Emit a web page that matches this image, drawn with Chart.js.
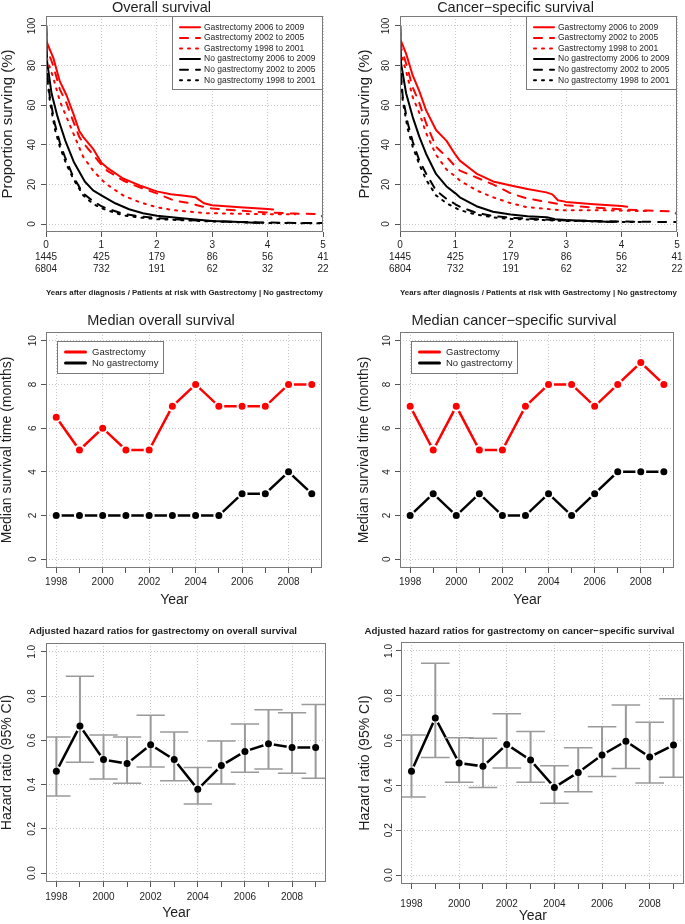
<!DOCTYPE html>
<html>
<head>
<meta charset="utf-8">
<title>Gastrectomy survival</title>
<script src="https://cdn.jsdelivr.net/npm/chart.js@4.4.1/dist/chart.umd.min.js"></script>
<style>
  html, body { margin: 0; padding: 0; background: #fff; overflow: hidden; }
  #fig { position: relative; width: 685px; height: 924px; overflow: hidden; background: #fff; }
  #fig canvas { position: absolute; }
</style>
</head>
<body>
<div id="fig">
  <canvas id="os" width="367" height="305" style="left:0px;top:0px"></canvas>
  <canvas id="css" width="369" height="305" style="left:354px;top:0px"></canvas>
  <canvas id="medOs" width="367" height="305" style="left:0px;top:305px"></canvas>
  <canvas id="medCss" width="372" height="305" style="left:354px;top:305px"></canvas>
  <canvas id="hrOs" width="373" height="314" style="left:0px;top:610px"></canvas>
  <canvas id="hrCss" width="342" height="314" style="left:355px;top:610px"></canvas>
</div>
<script>
// ---------- data ----------
const riskYears = [0, 1, 2, 3, 4, 5];
const riskGastro = [1445, 425, 179, 86, 56, 41];
const riskNoGastro = [6804, 732, 191, 62, 32, 22];

const curveLabels = [
  "Gastrectomy 2006 to 2009", "Gastrectomy 2002 to 2005", "Gastrectomy 1998 to 2001",
  "No gastrectomy 2006 to 2009", "No gastrectomy 2002 to 2005", "No gastrectomy 1998 to 2001"
];

// overall survival, [years, % surviving]
const osG0609 = [[0,100],[0.01,92],[0.13,84],[0.25,72],[0.37,65],[0.49,56],[0.6,47],[0.67,44],[0.85,38],[1.0,31],[1.1,28.5],[1.39,23],[1.69,19.5],[2.0,16.5],[2.25,15],[2.5,14.3],[2.7,13.5],[2.85,10.5],[3.0,9.5],[3.5,8.5],[4.0,7.6],[4.1,7.4]];
const osG0205 = [[0,100],[0.01,89],[0.13,80],[0.25,68],[0.37,61],[0.49,52],[0.6,44],[0.67,41],[0.85,35],[1.0,30],[1.1,27],[1.39,22],[1.69,18.5],[2.0,15.5],[2.3,12],[2.6,10.5],[2.8,9],[3.0,7.8],[3.5,6.8],[4.0,5.8],[4.5,5.3],[4.95,5],[5.0,3.5]];
const osG9801 = [[0,100],[0.01,84],[0.13,74],[0.25,62],[0.37,54],[0.49,46],[0.67,34],[0.85,27],[1.0,22.5],[1.1,20],[1.39,14.5],[1.69,11],[2.0,8.5],[2.3,7],[2.9,5.5],[3.5,5.2],[4.0,5],[4.5,5]];
const osN0609 = [[0,100],[0.02,82],[0.1,66],[0.2,55],[0.25,50.5],[0.35,42],[0.5,31.5],[0.7,21.5],[0.85,17],[1.0,14.5],[1.25,10.5],[1.5,7.5],[1.75,5.5],[2.0,4.2],[2.5,2.8],[3.0,1.6],[3.5,1.0],[3.85,0.6]];
const osN0205 = [[0,100],[0.02,76],[0.07,64],[0.16,50.5],[0.25,41],[0.34,34],[0.49,24],[0.67,15.5],[0.85,11.5],[1.0,9],[1.1,7.8],[1.39,5.2],[1.7,3.8],[2.0,3],[2.6,2],[3.0,1.5],[3.5,1.1],[4.0,0.8],[4.5,0.6],[5.0,0.5]];
const osN9801 = [[0,100],[0.02,74],[0.07,62],[0.16,48],[0.25,39],[0.37,30],[0.49,23],[0.67,14.5],[0.85,10.2],[1.0,8],[1.1,7],[1.39,4.4],[1.7,3.3],[2.0,2.5],[2.6,1.8],[3.0,1.3],[3.5,0.9],[4.0,0.6],[4.5,0.5],[5.0,0.4]];

// cancer-specific survival
const cssG0609 = [[0,100],[0.01,93],[0.11,86],[0.23,75],[0.35,67],[0.47,57.5],[0.65,47.5],[0.84,42],[1.0,35],[1.08,32],[1.38,25.5],[1.68,21.5],[2.0,19.5],[2.3,17.7],[2.64,16],[2.75,15],[2.85,12],[3.0,11.2],[3.5,10],[4.0,9.1],[4.1,8.8]];
const cssG0205 = [[0,100],[0.01,90],[0.11,81],[0.23,69],[0.35,61],[0.47,51],[0.65,39],[0.84,34],[1.0,29],[1.08,27],[1.38,23.5],[1.68,20],[2.0,15.5],[2.28,13],[2.64,11.2],[3.0,9.5],[3.5,8.3],[4.0,7.4],[4.5,6.8],[4.95,6.4],[5.0,4.8]];
const cssG9801 = [[0,100],[0.01,87],[0.11,77],[0.23,64],[0.35,56],[0.47,46],[0.65,35],[0.84,27.5],[1.0,24],[1.08,22],[1.38,17],[1.68,13.5],[2.0,10.5],[2.28,8.6],[2.9,7],[3.5,7],[4.0,6.8],[4.5,6.5]];
const cssN0609 = [[0,100],[0.02,81],[0.11,66],[0.23,54],[0.35,44],[0.47,35.5],[0.65,25.3],[0.84,19],[1.0,15.5],[1.08,13.5],[1.38,9],[1.68,6.2],[2.0,4.8],[2.3,4],[2.65,3.5],[2.8,2.4],[3.0,2],[3.5,1.4],[3.85,1.1]];
const cssN0205 = [[0,100],[0.02,75],[0.05,64],[0.14,51],[0.23,41.5],[0.35,32],[0.47,25.5],[0.65,17],[0.84,12.7],[1.0,10],[1.08,8.8],[1.38,5.6],[1.7,4],[2.0,3.2],[2.6,2.3],[3.0,1.8],[4.0,1.3],[5.0,1.0]];
const cssN9801 = [[0,100],[0.02,73],[0.05,62],[0.14,48],[0.23,39],[0.35,30],[0.47,22.5],[0.65,14.5],[0.84,10.5],[1.0,8.2],[1.08,7],[1.38,4.8],[1.7,3.3],[2.0,2.6],[2.6,2],[3.0,1.6],[4.0,1.1],[4.4,1.0]];

const years = [1998, 1999, 2000, 2001, 2002, 2003, 2004, 2005, 2006, 2007, 2008, 2009];

// median survival (months)
const medOsGastro   = [6.5, 5, 6, 5, 5, 7, 8, 7, 7, 7, 8, 8];
const medOsNoGastro = [2, 2, 2, 2, 2, 2, 2, 2, 3, 3, 4, 3];
const medCssGastro   = [7, 5, 7, 5, 5, 7, 8, 8, 7, 8, 9, 8];
const medCssNoGastro = [2, 3, 2, 3, 2, 2, 3, 2, 3, 4, 4, 4];

// adjusted hazard ratios with 95% CI
const hrOs   = [0.46, 0.665, 0.513, 0.495, 0.58, 0.513, 0.379, 0.486, 0.55, 0.585, 0.568, 0.568];
const hrOsLo = [0.349, 0.501, 0.426, 0.406, 0.48, 0.418, 0.313, 0.403, 0.456, 0.471, 0.451, 0.429];
const hrOsHi = [0.615, 0.89, 0.624, 0.615, 0.713, 0.638, 0.477, 0.597, 0.674, 0.738, 0.725, 0.762];
const hrCss   = [0.463, 0.701, 0.5, 0.485, 0.583, 0.513, 0.391, 0.458, 0.536, 0.597, 0.527, 0.58];
const hrCssLo = [0.348, 0.525, 0.414, 0.391, 0.478, 0.414, 0.32, 0.372, 0.44, 0.475, 0.411, 0.436];
const hrCssHi = [0.625, 0.945, 0.613, 0.61, 0.72, 0.641, 0.488, 0.568, 0.662, 0.759, 0.682, 0.787];

const pctTicks = [0, 20, 40, 60, 80, 100];
const monthTicks = [0, 2, 4, 6, 8, 10];
const hrTicks = [0, 0.2, 0.4, 0.6, 0.8, 1.0];

// ---------- styles ----------
const FONT = "'Liberation Sans', Arial, Helvetica, sans-serif";
const RED = "#ff0000", BLACK = "#000000";
const SOLID = [], DASHED = [8, 8], DOTTED = [2, 6];
const GRID = "#c8c8c8", TICK = "#555555", BOX = "#7a7a7a", ERR = "#9a9a9a", TXT = "#1e1e1e";
const CAP = 0.6;

Chart.defaults.font.family = FONT;
Chart.defaults.color = TXT;

// box around the plot region + boxed legend, R style
const rFrame = {
  id: "rFrame",
  afterDraw(chart, args, opts) {
    const { ctx, chartArea: a } = chart;
    ctx.save();
    ctx.lineWidth = 1;
    ctx.strokeStyle = BOX;
    ctx.strokeRect(Math.round(a.left) + 0.5, Math.round(a.top) + 0.5,
                   Math.round(a.right - a.left) - 1, Math.round(a.bottom - a.top) - 1);
    const lg = opts.legend;
    if (lg) {
      const x0 = Math.round(lg.fromRight ? a.right - lg.w : a.left + lg.dx);
      const y0 = Math.round(a.top + lg.dy);
      ctx.fillStyle = "#fff";
      ctx.fillRect(x0, y0, lg.w, lg.h);
      ctx.strokeRect(x0 + 0.5, y0 + 0.5, lg.w - 1, lg.h - 1);
      ctx.font = lg.size + "px " + FONT;
      ctx.textBaseline = "middle";
      ctx.lineCap = "round";
      chart.data.datasets.filter(d => d.label).forEach((d, i) => {
        const y = y0 + lg.first + i * lg.step;
        ctx.beginPath();
        ctx.setLineDash(d.borderDash || []);
        ctx.lineWidth = lg.lw;
        ctx.strokeStyle = d.borderColor;
        ctx.moveTo(x0 + lg.s0, y);
        ctx.lineTo(x0 + lg.s1, y);
        ctx.stroke();
        ctx.setLineDash([]);
        ctx.fillStyle = TXT;
        ctx.fillText(d.label, x0 + lg.tx, y);
      });
    }
    ctx.restore();
  }
};
Chart.register(rFrame);

const xScale = (o) => ({
  type: "linear", min: o.min, max: o.max,
  afterBuildTicks: s => { s.ticks = o.ticks.map(v => ({ value: v })); },
  afterFit: s => { s.height = o.height; },
  ticks: { autoSkip: false, minRotation: 0, maxRotation: 0, padding: o.pad,
           font: { size: 10, lineHeight: 1.2 }, color: TXT, callback: o.label },
  grid: { color: c => (c.tick && o.gridOn(c.tick.value)) ? GRID : "rgba(0,0,0,0)",
          tickColor: TICK, tickLength: 5, lineWidth: 1 },
  border: { display: false, dash: [1, 2] },
  title: { display: true, text: o.title, color: TXT, font: o.titleFont,
           padding: { top: 0, bottom: o.titlePad } }
});

const yScale = (o) => ({
  type: "linear", min: o.min, max: o.max,
  afterBuildTicks: s => { s.ticks = o.ticks.map(v => ({ value: v })); },
  afterFit: s => { s.width = 46; },
  ticks: { autoSkip: false, minRotation: 90, maxRotation: 90, crossAlign: "center",
           padding: o.pad, font: { size: 10 }, color: TXT, callback: o.label },
  grid: { color: GRID, tickColor: TICK, tickLength: 5, lineWidth: 1 },
  border: { display: false, dash: [1, 2] },
  title: { display: true, text: o.title, color: TXT, font: { size: o.titleSize, lineHeight: 1 },
           padding: { top: o.titlePad, bottom: 0 } }
});

const titleOpts = (text, size, weight, top, bottom) => ({
  display: true, text, color: TXT, font: { size, weight, lineHeight: 1 }, padding: { top, bottom }
});

const yearLabel = v => (v % 2 === 0 ? String(v) : "");
const evenYear = v => v % 2 === 0;

// ---------- survival curves ----------
const survivalChart = (id, title, curves, rightPad, yTitlePad) => {
  const looks = [[RED, SOLID], [RED, DASHED], [RED, DOTTED], [BLACK, SOLID], [BLACK, DASHED], [BLACK, DOTTED]];
  return new Chart(document.getElementById(id), {
    type: "line",
    data: {
      datasets: curves.map((pts, i) => ({
        label: curveLabels[i],
        data: pts.map(([x, y]) => ({ x, y })),
        borderColor: looks[i][0], borderDash: looks[i][1], borderWidth: 2,
        borderCapStyle: "round", borderJoinStyle: "round", pointRadius: 0, tension: 0
      }))
    },
    options: {
      responsive: false, animation: false,
      layout: { padding: { left: 0, right: rightPad, top: 0, bottom: 0 } },
      plugins: {
        legend: { display: false }, tooltip: { enabled: false },
        title: titleOpts(title, 14.5, "normal", 0.3, 1.2),
        rFrame: { legend: { fromRight: true, dy: 0, w: 151, h: 74, first: 11.3, step: 10.6,
                            s0: 8, s1: 28, tx: 32, size: 8.5, lw: 2 } }
      },
      scales: {
        x: xScale({ min: 0, max: 5, ticks: riskYears, height: 73, pad: 2, gridOn: () => true,
          label: v => { const i = riskYears.indexOf(v); return [String(v), String(riskGastro[i]), String(riskNoGastro[i])]; },
          title: "Years after diagnosis / Patients at risk with Gastrectomy | No gastrectomy",
          titleFont: { size: 8, weight: "bold", lineHeight: 1 }, titlePad: 8 }),
        y: yScale({ min: -4, max: 105, ticks: pctTicks, pad: 0, label: v => String(v),
          title: "Proportion surving (%)", titleSize: 15, titlePad: yTitlePad })
      }
    }
  });
};

survivalChart("os", "Overall survival", [osG0609, osG0205, osG9801, osN0609, osN0205, osN9801], 44, 0.8);
survivalChart("css", "Cancer\u2212specific survival", [cssG0609, cssG0205, cssG9801, cssN0609, cssN0205, cssN9801], 46, 3.5);

// ---------- median survival ----------
const medianChart = (id, title, gastro, noGastro, rightPad, yTitlePad) => {
  const series = (label, vals, color) => ({
    label, data: years.map((x, i) => ({ x, y: vals[i] })),
    borderColor: color, borderWidth: 2.5, tension: 0,
    pointRadius: 4.5, pointBorderWidth: 2, pointBorderColor: "#fff", pointBackgroundColor: color
  });
  return new Chart(document.getElementById(id), {
    type: "line",
    data: { datasets: [series("Gastrectomy", gastro, RED), series("No gastrectomy", noGastro, BLACK)] },
    options: {
      responsive: false, animation: false,
      layout: { padding: { left: 0, right: rightPad, top: 0, bottom: 0 } },
      plugins: {
        legend: { display: false }, tooltip: { enabled: false },
        title: titleOpts(title, 14.5, "normal", 8.4, 4.1),
        rFrame: { legend: { fromRight: false, dx: 10.5, dy: 9, w: 107, h: 33, first: 11, step: 11,
                            s0: 8.5, s1: 28.5, tx: 35, size: 9.5, lw: 3 } }
      },
      scales: {
        x: xScale({ min: 1997.56, max: 2009.44, ticks: years, height: 42, pad: 3, gridOn: evenYear,
          label: yearLabel, title: "Year     ", titleFont: { size: 14, lineHeight: 1 }, titlePad: 3 }),
        y: yScale({ min: -0.4, max: 10.4, ticks: monthTicks, pad: 2.4, label: v => String(v),
          title: "Median survival time (months)", titleSize: 14, titlePad: yTitlePad })
      }
    }
  });
};

medianChart("medOs", "Median overall survival", medOsGastro, medOsNoGastro, 45, 0.5);
medianChart("medCss", "Median cancer\u2212specific survival", medCssGastro, medCssNoGastro, 52, 3.2);

// ---------- hazard ratios ----------
const hrChart = (id, title, hr, lo, hi, o) => {
  const pts = years.map((x, i) => ({ x, y: hr[i] }));
  const whiskers = [], caps = [];
  years.forEach((x, i) => {
    whiskers.push({ x, y: lo[i] }, { x, y: hi[i] }, { x, y: null });
    caps.push({ x: x - CAP, y: hi[i] }, { x: x + CAP, y: hi[i] }, { x, y: null },
              { x: x - CAP, y: lo[i] }, { x: x + CAP, y: lo[i] }, { x, y: null });
  });
  return new Chart(document.getElementById(id), {
    type: "line",
    data: {
      datasets: [
        { data: pts, showLine: false, pointRadius: 3.5, pointBorderWidth: 0, pointBackgroundColor: BLACK },
        { data: whiskers, borderColor: ERR, borderWidth: 2, pointRadius: 0, spanGaps: false },
        { data: caps, borderColor: ERR, borderWidth: 1.5, pointRadius: 0, spanGaps: false },
        { data: pts, borderColor: BLACK, borderWidth: 2.5, tension: 0,
          pointRadius: 5.5, pointBorderWidth: 0, pointBackgroundColor: "#fff" }
      ]
    },
    options: {
      responsive: false, animation: false,
      layout: { padding: { left: 0, right: o.rightPad, top: 0, bottom: 0 } },
      plugins: {
        legend: { display: false }, tooltip: { enabled: false },
        title: titleOpts(title, 9.7, "bold", 16, o.titleBottom),
        rFrame: {}
      },
      scales: {
        x: xScale({ min: 1997.56, max: 2009.44, ticks: years, height: o.xHeight, pad: o.xPad, gridOn: evenYear,
          label: yearLabel, title: "Year     ", titleFont: { size: 14, lineHeight: 1 }, titlePad: o.xTitlePad }),
        y: yScale({ min: -0.04, max: 1.04, ticks: hrTicks, pad: o.yPad, label: v => v.toFixed(1),
          title: "Hazard ratio (95% CI)", titleSize: 14, titlePad: o.yTitlePad })
      }
    }
  });
};

hrChart("hrOs", "Adjusted hazard ratios for gastrectomy on overall survival", hrOs, hrOsLo, hrOsHi,
  { rightPad: 47, titleBottom: 7.3, xHeight: 42, xPad: 4.2, xTitlePad: 4, yPad: 1.5, yTitlePad: 0.5 });
hrChart("hrCss", "Adjusted hazard ratios for gastrectomy on cancer\u2212specific survival", hrCss, hrCssLo, hrCssHi,
  { rightPad: 13, titleBottom: 6.3, xHeight: 40, xPad: 9, xTitlePad: 0.5, yPad: 0, yTitlePad: 3 });
</script>
</body>
</html>
